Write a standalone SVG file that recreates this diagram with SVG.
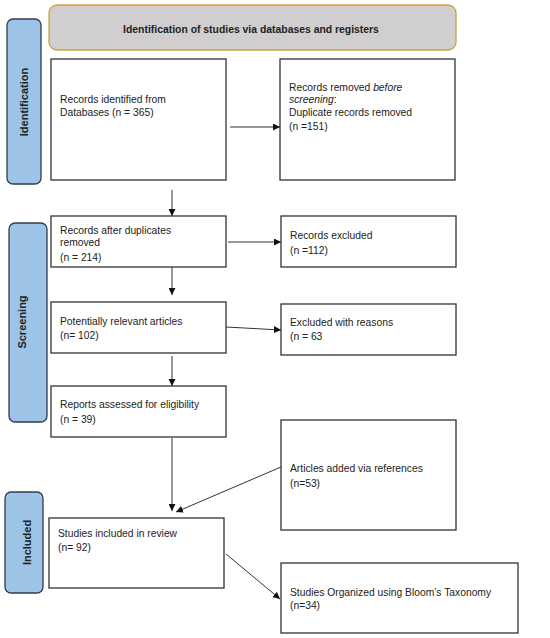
<svg xmlns="http://www.w3.org/2000/svg" width="550" height="638" viewBox="0 0 550 638">
<style>
.box{fill:#fff;stroke:#333;stroke-width:1.3}
.side{fill:#9dc3e6;stroke:#2e3d4f;stroke-width:1.3}
.t{font-family:"Liberation Sans",Arial,sans-serif;font-size:10.3px;fill:#222}
.sl{font-family:"Liberation Sans",Arial,sans-serif;font-size:10.5px;font-weight:bold;fill:#222;text-anchor:middle}
.c{stroke:#333;stroke-width:1;fill:none;marker-end:url(#ah)}
</style>
<defs>
<marker id="ah" viewBox="0 0 10 10" refX="10" refY="5" markerWidth="7" markerHeight="7" markerUnits="userSpaceOnUse" orient="auto">
<path d="M0,0 L10,5 L0,10 z" fill="#111"/>
</marker>
</defs>
<rect width="550" height="638" fill="#fff"/>
<g id="header">
<rect x="49" y="5" width="407" height="45" rx="8" fill="#d0cece" stroke="#c9a045" stroke-width="1.3"/>
<text x="251" y="32.5" class="sl" style="font-size:10.4px">Identification of studies via databases and registers</text>
</g>
<g id="lab-identification">
<rect x="7" y="19" width="34" height="165" rx="6" class="side"/>
<text class="sl" transform="translate(28 102) rotate(-90)" style="font-size:11px">Identification</text>
</g>
<g id="lab-screening">
<rect x="9" y="223" width="38" height="199" rx="6" class="side"/>
<text class="sl" transform="translate(26 322) rotate(-90)" style="font-size:11px">Screening</text>
</g>
<g id="lab-included">
<rect x="5" y="492" width="38" height="101" rx="6" class="side"/>
<text class="sl" transform="translate(31 542.5) rotate(-90)" style="font-size:11px">Included</text>
</g>
<g id="n1">
<rect x="51" y="59" width="175" height="121" class="box"/>
<text class="t" x="60" y="103">Records identified from</text>
<text class="t" x="60" y="116">Databases (n = 365)</text>
</g>
<g id="n2">
<rect x="280" y="59" width="175" height="121" class="box"/>
<text class="t" x="289" y="91">Records removed <tspan font-style="italic">before</tspan></text>
<text class="t" x="289" y="103"><tspan font-style="italic">screening</tspan>:</text>
<text class="t" x="289" y="116">Duplicate records removed</text>
<text class="t" x="289" y="130">(n =151)</text>
</g>
<g id="n3">
<rect x="51" y="216" width="175" height="51" class="box"/>
<text class="t" x="60" y="234">Records after duplicates</text>
<text class="t" x="60" y="246">removed</text>
<text class="t" x="60" y="261">(n = 214)</text>
</g>
<g id="n4">
<rect x="281" y="216" width="175" height="51" class="box"/>
<text class="t" x="290" y="239">Records excluded</text>
<text class="t" x="290" y="254">(n =112)</text>
</g>
<g id="n5">
<rect x="51" y="302" width="175" height="51" class="box"/>
<text class="t" x="60" y="325">Potentially relevant articles</text>
<text class="t" x="60" y="339">(n= 102)</text>
</g>
<g id="n6">
<rect x="281" y="304" width="175" height="51" class="box"/>
<text class="t" x="290" y="326">Excluded with reasons</text>
<text class="t" x="290" y="340">(n = 63</text>
</g>
<g id="n7">
<rect x="51" y="386" width="175" height="51" class="box"/>
<text class="t" x="60" y="408">Reports assessed for eligibility</text>
<text class="t" x="60" y="423">(n = 39)</text>
</g>
<g id="n8">
<rect x="281" y="420" width="175" height="110" class="box"/>
<text class="t" x="290" y="472">Articles added via references</text>
<text class="t" x="290" y="487">(n=53)</text>
</g>
<g id="n9">
<rect x="49" y="518" width="175" height="70" class="box"/>
<text class="t" x="58" y="537">Studies included in review</text>
<text class="t" x="58" y="551">(n= 92)</text>
</g>
<g id="n10">
<rect x="281" y="563" width="237" height="70" class="box"/>
<text class="t" x="290" y="596">Studies Organized using Bloom’s Taxonomy</text>
<text class="t" x="290" y="609">(n=34)</text>
</g>
<g id="connectors">
<line x1="230" y1="127" x2="280" y2="127" class="c"/>
<line x1="172" y1="190" x2="172" y2="216" class="c"/>
<line x1="228" y1="242" x2="281" y2="242" class="c"/>
<line x1="172" y1="267" x2="172" y2="295" class="c"/>
<line x1="226" y1="327" x2="281" y2="330" class="c"/>
<line x1="172" y1="356" x2="172" y2="386" class="c"/>
<line x1="172" y1="438" x2="172" y2="511" class="c"/>
<line x1="281" y1="467" x2="176" y2="512" class="c"/>
<line x1="226" y1="554" x2="280" y2="599" class="c"/>
</g>
</svg>
